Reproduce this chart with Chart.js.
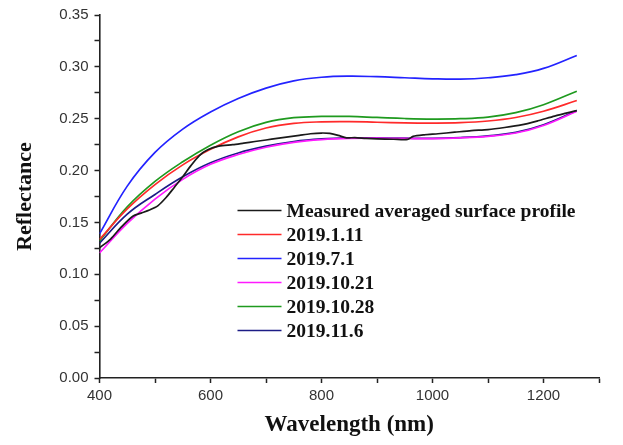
<!DOCTYPE html>
<html>
<head>
    <title>Reflectance</title>
    <script src="https://cdn.jsdelivr.net/npm/chart.js"></script>
    <style>
        body { margin: 0; background: #fff; }
        .chart-container { width: 623px; height: 445px; }
    </style>
</head>
<body>
    <div class="chart-container">
        <canvas id="reflectChart" width="623" height="445"></canvas>
    </div>
<script>
// wavelengths (nm) for the fitted curves
const fitWavelengths = [400, 450, 500, 550, 600, 650, 700, 750, 800, 850, 900, 950, 1000, 1050, 1100, 1150, 1200, 1260];

const jan11 = [0.1335, 0.163, 0.1865, 0.2055, 0.2205, 0.2325, 0.241, 0.2455, 0.247, 0.2472, 0.2466, 0.246, 0.2458, 0.2462, 0.2478, 0.2512, 0.2572, 0.2675];
const jul1 = [0.139, 0.185, 0.2175, 0.240, 0.2565, 0.2695, 0.2795, 0.2865, 0.290, 0.291, 0.2905, 0.2895, 0.2885, 0.2882, 0.2895, 0.2925, 0.2985, 0.311];
const oct21 = [0.1205, 0.149, 0.1725, 0.1915, 0.206, 0.2155, 0.2225, 0.2272, 0.2298, 0.231, 0.2312, 0.231, 0.2308, 0.2315, 0.233, 0.2362, 0.2435, 0.2572];
const oct28 = [0.132, 0.165, 0.1895, 0.2085, 0.2245, 0.2375, 0.2465, 0.251, 0.2522, 0.2522, 0.2512, 0.2502, 0.2497, 0.250, 0.2515, 0.2558, 0.2635, 0.2765];
const nov6 = [0.130, 0.158, 0.177, 0.194, 0.2075, 0.217, 0.2235, 0.228, 0.2305, 0.2315, 0.2315, 0.2312, 0.231, 0.2318, 0.2335, 0.2368, 0.2442, 0.2578];

// measured averaged surface profile (more points, it is noisy)
const measuredWavelengths = [400, 420, 440, 460, 475, 490, 505, 520, 535, 550, 565, 580, 595, 615, 640, 660, 680, 700, 720, 740, 760, 780, 800, 815, 830, 845, 860, 880, 900, 930, 955, 965, 985, 1010, 1040, 1070, 1100, 1130, 1160, 1190, 1220, 1260];
const measured = [0.1255, 0.134, 0.146, 0.156, 0.159, 0.162, 0.166, 0.174, 0.184, 0.194, 0.205, 0.2145, 0.220, 0.2235, 0.225, 0.2265, 0.228, 0.2295, 0.231, 0.2325, 0.234, 0.2355, 0.2362, 0.2358, 0.234, 0.2315, 0.2318, 0.231, 0.2305, 0.2302, 0.230, 0.233, 0.2345, 0.2355, 0.237, 0.2385, 0.2395, 0.2415, 0.244, 0.248, 0.2525, 0.2578];

const seriesNames = ['Measured averaged surface profile', '2019.1.11', '2019.7.1', '2019.10.21', '2019.10.28', '2019.11.6'];
const seriesColors = ['#1a1a1a', '#ff2a2a', '#2323ff', '#ff1aff', '#1f9a1f', '#1c1c86'];

// tick labels
const xTickLabels = [400, 600, 800, 1000, 1200];
const yTickLabels = ['0.00', '0.05', '0.10', '0.15', '0.20', '0.25', '0.30', '0.35'];

function toPoints(xs, ys) {
    return ys.map((y, i) => ({ x: xs[i], y: y }));
}

const allSeries = [
    toPoints(measuredWavelengths, measured),
    toPoints(fitWavelengths, jan11),
    toPoints(fitWavelengths, jul1),
    toPoints(fitWavelengths, oct21),
    toPoints(fitWavelengths, oct28),
    toPoints(fitWavelengths, nov6)
];

// legend inside the plot area
const insideLegend = {
    id: 'insideLegend',
    afterDatasetsDraw(chart) {
        const ctx = chart.ctx;
        const area = chart.chartArea;
        const x0 = area.left + 138;
        const y0 = area.top + 195.5;
        ctx.save();
        ctx.font = 'bold 19.5px "Liberation Serif", "Times New Roman", serif';
        ctx.textBaseline = 'middle';
        ctx.fillStyle = '#111';
        chart.data.datasets.forEach((ds, i) => {
            const y = y0 + i * 24;
            ctx.strokeStyle = ds.borderColor;
            ctx.lineWidth = 1.6;
            ctx.beginPath();
            ctx.moveTo(x0, y);
            ctx.lineTo(x0 + 44, y);
            ctx.stroke();
            ctx.fillText(ds.label, x0 + 49, y + 1);
        });
        ctx.restore();
    }
};

new Chart(document.getElementById('reflectChart'), {
    type: 'line',
    data: {
        datasets: allSeries.map((pts, i) => ({
            label: seriesNames[i],
            data: pts,
            borderColor: seriesColors[i],
            borderWidth: 1.7,
            pointRadius: 0,
            fill: false,
            tension: i === 0 ? 0.25 : 0.4
        }))
    },
    options: {
        responsive: false,
        animation: false,
        devicePixelRatio: 1,
        layout: { padding: { left: 0, top: 12, right: 24, bottom: 0 } },
        plugins: {
            legend: { display: false },
            tooltip: { enabled: false }
        },
        scales: {
            x: {
                type: 'linear',
                min: 400,
                max: 1300,
                afterFit: s => { s.height = 67; },
                border: { display: true, color: '#222', width: 1.6 },
                grid: { drawOnChartArea: false, drawTicks: true, tickLength: 5, tickColor: '#222', tickWidth: 1.5 },
                ticks: {
                    stepSize: 100,
                    padding: 4,
                    color: '#333',
                    font: { family: '"Liberation Sans", Arial, sans-serif', size: 15 },
                    maxRotation: 0,
                    autoSkip: false,
                    callback: v => xTickLabels.includes(v) ? String(v) : ''
                },
                title: {
                    display: true,
                    text: 'Wavelength (nm)',
                    color: '#111',
                    font: { family: '"Liberation Serif", "Times New Roman", serif', size: 23, weight: 'bold' },
                    padding: { top: 0, bottom: 6 }
                }
            },
            y: {
                min: 0,
                max: 0.35,
                afterFit: s => { s.width = 99.5; },
                border: { display: true, color: '#222', width: 1.6 },
                grid: { drawOnChartArea: false, drawTicks: true, tickLength: 5, tickColor: '#222', tickWidth: 1.5 },
                ticks: {
                    stepSize: 0.025,
                    padding: 6,
                    color: '#333',
                    font: { family: '"Liberation Sans", Arial, sans-serif', size: 15 },
                    autoSkip: false,
                    callback: v => {
                        const label = v.toFixed(2);
                        return Math.round(v * 1000) % 50 === 0 && yTickLabels.includes(label) ? label : '';
                    }
                },
                title: {
                    display: true,
                    text: 'Reflectance',
                    color: '#111',
                    font: { family: '"Liberation Serif", "Times New Roman", serif', size: 22, weight: 'bold' },
                    padding: { top: 12, bottom: 0 }
                }
            }
        }
    },
    plugins: [insideLegend]
});
</script>
</body>
</html>
